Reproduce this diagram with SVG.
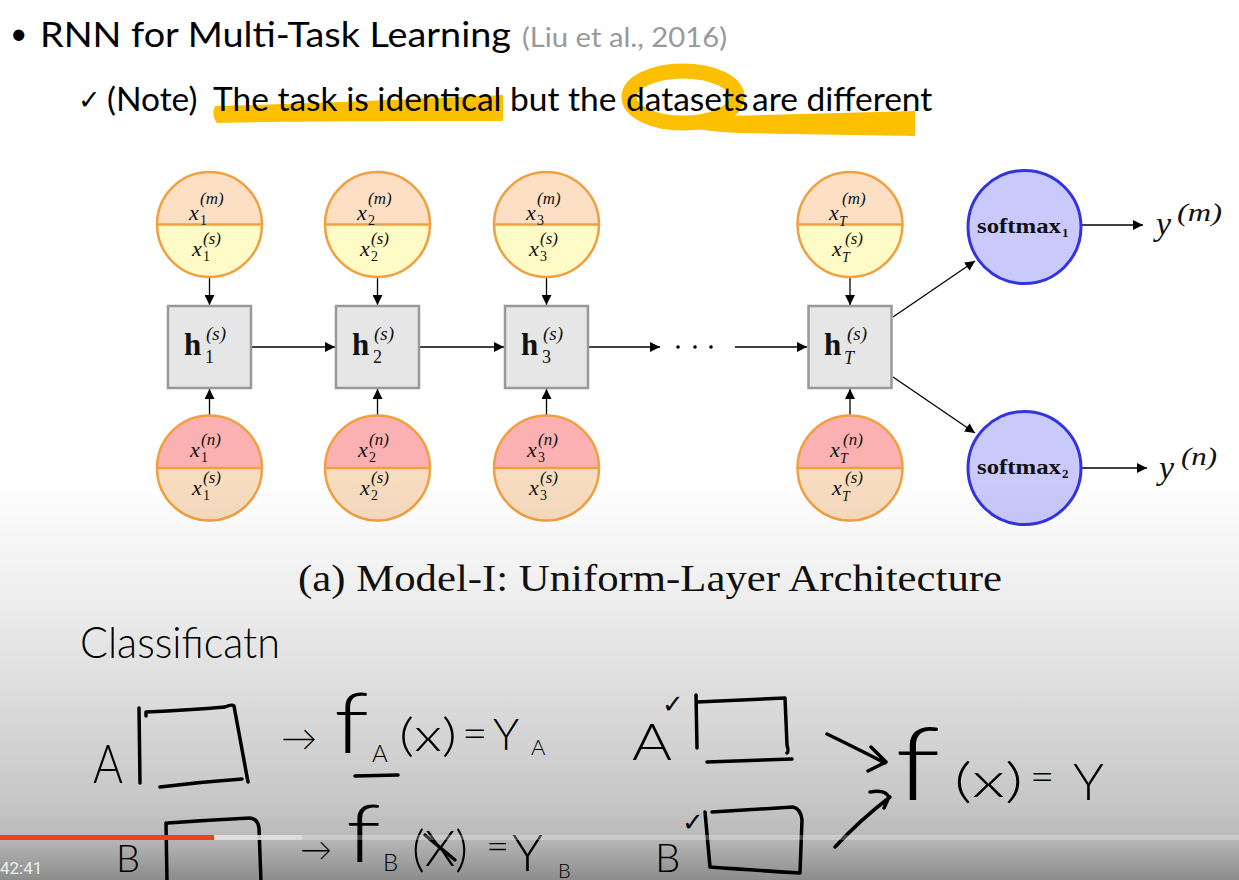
<svg xmlns="http://www.w3.org/2000/svg" width="1239" height="880" viewBox="0 0 1239 880">
<defs>
<linearGradient id="shade" gradientUnits="userSpaceOnUse" x1="0" y1="480" x2="0" y2="880">
<stop offset="0" stop-color="#000" stop-opacity="0"/>
<stop offset="0.3" stop-color="#000" stop-opacity="0.07"/>
<stop offset="0.55" stop-color="#000" stop-opacity="0.14"/>
<stop offset="0.8" stop-color="#000" stop-opacity="0.22"/>
<stop offset="0.89" stop-color="#000" stop-opacity="0.27"/>
<stop offset="1" stop-color="#000" stop-opacity="0.45"/>
</linearGradient>
<marker id="ah" viewBox="0 0 10 10" refX="10" refY="5" markerWidth="10" markerHeight="10" markerUnits="userSpaceOnUse" orient="auto">
<path d="M0,0 L10,5 L0,10 Z" fill="#000"/>
</marker>
<style>
.slide{font-family:Lato,"Open Sans",sans-serif;fill:#000}
.cite{font-family:Lato,"Open Sans",sans-serif;fill:#999}
.m{font-family:"Liberation Serif","DejaVu Serif",serif;font-style:italic;fill:#111}
.r{font-family:"Liberation Serif","DejaVu Serif",serif;fill:#111}
.b{font-family:"Liberation Serif","DejaVu Serif",serif;font-weight:bold;fill:#111}
.xb{font-size:22px}
.sb{font-size:14px}
.sp{font-size:17px}
.ring{fill:none;stroke:#f0a040;stroke-width:2.5}
.pu{fill:#fde0c4}
.yl{fill:#fefbc6}
.pk{fill:#fbb1b1}
.pl{fill:#f8dcc0}
.box{fill:#e6e6e6;stroke:#999;stroke-width:2.5}
.sm{fill:#c9c9fb;stroke:#3333e0;stroke-width:3}
.cn{stroke:#000;stroke-width:1.3;fill:none;marker-end:url(#ah)}
.hl{fill:#fcc000}
.hls{fill:none;stroke:#fcc000;stroke-linecap:round}
.hw{font-family:Lato,"DejaVu Sans",sans-serif;font-weight:300;fill:#000}
.pen{fill:none;stroke:#000;stroke-width:3.5;stroke-linecap:round;stroke-linejoin:round}
</style>
</defs>
<rect x="0" y="0" width="1239" height="880" fill="#fff"/>

<g id="highlights">
<path class="hl" d="M215,106 C300,104 420,99 503,95 L503,121 C420,121 300,121 217,123 Q211,115 215,106 Z"/>
<ellipse class="hls" cx="683" cy="97" rx="54" ry="26" stroke-width="15"/>
<path class="hl" d="M690,117 L915,111 L915,136 L740,133 Q700,131 690,127 Z"/>
</g>

<g id="title">
<text class="slide" x="10" y="44" font-size="30">•</text>
<text class="slide" x="40" y="47" font-size="35" textLength="471" lengthAdjust="spacingAndGlyphs">RNN for Multi-Task Learning</text>
<text class="cite" x="522" y="47" font-size="26" textLength="205" lengthAdjust="spacingAndGlyphs">(Liu et al., 2016)</text>
</g>
<g id="note">
<text x="78" y="109" font-size="27" font-family="DejaVu Sans, sans-serif">✓</text>
<text class="slide" y="111" font-size="33.5"><tspan x="107">(Note)</tspan><tspan x="213">The task is identical</tspan><tspan x="510">but the</tspan><tspan x="626">datasets</tspan><tspan x="752">are different</tspan></text>
</g>

<g id="connectors">
<line class="cn" x1="209.5" y1="277" x2="209.5" y2="305"/>
<line class="cn" x1="377.5" y1="277" x2="377.5" y2="305"/>
<line class="cn" x1="546.5" y1="277" x2="546.5" y2="305"/>
<line class="cn" x1="850" y1="277" x2="850" y2="305"/>
<line class="cn" x1="209.5" y1="416" x2="209.5" y2="389"/>
<line class="cn" x1="377.5" y1="416" x2="377.5" y2="389"/>
<line class="cn" x1="546.5" y1="416" x2="546.5" y2="389"/>
<line class="cn" x1="850" y1="416" x2="850" y2="389"/>
<line class="cn" x1="252" y1="347" x2="335" y2="347"/>
<line class="cn" x1="420" y1="347" x2="504" y2="347"/>
<line class="cn" x1="589" y1="347" x2="660" y2="347"/>
<line class="cn" x1="735" y1="347" x2="807" y2="347"/>
<line class="cn" x1="893" y1="317" x2="975" y2="261"/>
<line class="cn" x1="893" y1="377" x2="975" y2="433"/>
<line class="cn" x1="1082" y1="225" x2="1143" y2="225"/>
<line class="cn" x1="1082" y1="468" x2="1147" y2="468"/>
<circle cx="678" cy="347" r="1.8" fill="#000"/>
<circle cx="695" cy="347" r="1.8" fill="#000"/>
<circle cx="711" cy="347" r="1.8" fill="#000"/>
</g>

<g id="x1top">
<path class="pu" d="M157,224.5 A52.5,52.5 0 0 1 262,224.5 Z"/>
<path class="yl" d="M157,224.5 A52.5,52.5 0 0 0 262,224.5 Z"/>
<line x1="157" y1="224.5" x2="262" y2="224.5" stroke="#f0a040" stroke-width="2.5"/>
<circle class="ring" cx="209.5" cy="224.5" r="52.5"/>
<text class="m xb" x="189" y="220">x</text><text class="r sb" x="200" y="225">1</text><text class="m sp" x="200" y="204">(m)</text>
<text class="m xb" x="192" y="256">x</text><text class="r sb" x="203" y="261">1</text><text class="m sp" x="203" y="244">(s)</text>
</g>
<g id="h1">
<rect class="box" x="168" y="306" width="83" height="82"/>
<text class="b" x="184" y="355" font-size="31">h</text><text class="r" x="205" y="363" font-size="18">1</text><text class="m" x="206" y="340" font-size="19">(s)</text>
</g>
<g id="x1bot">
<path class="pk" d="M157,468 A52.5,52.5 0 0 1 262,468 Z"/>
<path class="pl" d="M157,468 A52.5,52.5 0 0 0 262,468 Z"/>
<line x1="157" y1="468" x2="262" y2="468" stroke="#f0a040" stroke-width="2.5"/>
<circle class="ring" cx="209.5" cy="468" r="52.5"/>
<text class="m xb" x="190" y="457">x</text><text class="r sb" x="201" y="462">1</text><text class="m sp" x="201" y="445">(n)</text>
<text class="m xb" x="192" y="495">x</text><text class="r sb" x="203" y="500">1</text><text class="m sp" x="203" y="483">(s)</text>
</g>

<g id="x2top">
<path class="pu" d="M325,224.5 A52.5,52.5 0 0 1 430,224.5 Z"/>
<path class="yl" d="M325,224.5 A52.5,52.5 0 0 0 430,224.5 Z"/>
<line x1="325" y1="224.5" x2="430" y2="224.5" stroke="#f0a040" stroke-width="2.5"/>
<circle class="ring" cx="377.5" cy="224.5" r="52.5"/>
<text class="m xb" x="357" y="220">x</text><text class="r sb" x="368" y="225">2</text><text class="m sp" x="368" y="204">(m)</text>
<text class="m xb" x="360" y="256">x</text><text class="r sb" x="371" y="261">2</text><text class="m sp" x="371" y="244">(s)</text>
</g>
<g id="h2">
<rect class="box" x="336" y="306" width="83" height="82"/>
<text class="b" x="352" y="355" font-size="31">h</text><text class="r" x="373" y="363" font-size="18">2</text><text class="m" x="374" y="340" font-size="19">(s)</text>
</g>
<g id="x2bot">
<path class="pk" d="M325,468 A52.5,52.5 0 0 1 430,468 Z"/>
<path class="pl" d="M325,468 A52.5,52.5 0 0 0 430,468 Z"/>
<line x1="325" y1="468" x2="430" y2="468" stroke="#f0a040" stroke-width="2.5"/>
<circle class="ring" cx="377.5" cy="468" r="52.5"/>
<text class="m xb" x="358" y="457">x</text><text class="r sb" x="369" y="462">2</text><text class="m sp" x="369" y="445">(n)</text>
<text class="m xb" x="360" y="495">x</text><text class="r sb" x="371" y="500">2</text><text class="m sp" x="371" y="483">(s)</text>
</g>

<g id="x3top">
<path class="pu" d="M494,224.5 A52.5,52.5 0 0 1 599,224.5 Z"/>
<path class="yl" d="M494,224.5 A52.5,52.5 0 0 0 599,224.5 Z"/>
<line x1="494" y1="224.5" x2="599" y2="224.5" stroke="#f0a040" stroke-width="2.5"/>
<circle class="ring" cx="546.5" cy="224.5" r="52.5"/>
<text class="m xb" x="526" y="220">x</text><text class="r sb" x="537" y="225">3</text><text class="m sp" x="537" y="204">(m)</text>
<text class="m xb" x="529" y="256">x</text><text class="r sb" x="540" y="261">3</text><text class="m sp" x="540" y="244">(s)</text>
</g>
<g id="h3">
<rect class="box" x="505" y="306" width="83" height="82"/>
<text class="b" x="521" y="355" font-size="31">h</text><text class="r" x="542" y="363" font-size="18">3</text><text class="m" x="543" y="340" font-size="19">(s)</text>
</g>
<g id="x3bot">
<path class="pk" d="M494,468 A52.5,52.5 0 0 1 599,468 Z"/>
<path class="pl" d="M494,468 A52.5,52.5 0 0 0 599,468 Z"/>
<line x1="494" y1="468" x2="599" y2="468" stroke="#f0a040" stroke-width="2.5"/>
<circle class="ring" cx="546.5" cy="468" r="52.5"/>
<text class="m xb" x="527" y="457">x</text><text class="r sb" x="538" y="462">3</text><text class="m sp" x="538" y="445">(n)</text>
<text class="m xb" x="529" y="495">x</text><text class="r sb" x="540" y="500">3</text><text class="m sp" x="540" y="483">(s)</text>
</g>

<g id="xTtop">
<path class="pu" d="M797.5,224.5 A52.5,52.5 0 0 1 902.5,224.5 Z"/>
<path class="yl" d="M797.5,224.5 A52.5,52.5 0 0 0 902.5,224.5 Z"/>
<line x1="797.5" y1="224.5" x2="902.5" y2="224.5" stroke="#f0a040" stroke-width="2.5"/>
<circle class="ring" cx="850" cy="224.5" r="52.5"/>
<text class="m xb" x="829" y="220">x</text><text class="m sb" x="839" y="226">T</text><text class="m sp" x="842" y="204">(m)</text>
<text class="m xb" x="832" y="256">x</text><text class="m sb" x="842" y="262">T</text><text class="m sp" x="845" y="244">(s)</text>
</g>
<g id="hT">
<rect class="box" x="808.5" y="306" width="83" height="82"/>
<text class="b" x="824" y="355" font-size="31">h</text><text class="m" x="844" y="364" font-size="18">T</text><text class="m" x="847" y="340" font-size="19">(s)</text>
</g>
<g id="xTbot">
<path class="pk" d="M797.5,468 A52.5,52.5 0 0 1 902.5,468 Z"/>
<path class="pl" d="M797.5,468 A52.5,52.5 0 0 0 902.5,468 Z"/>
<line x1="797.5" y1="468" x2="902.5" y2="468" stroke="#f0a040" stroke-width="2.5"/>
<circle class="ring" cx="850" cy="468" r="52.5"/>
<text class="m xb" x="830" y="457">x</text><text class="m sb" x="840" y="463">T</text><text class="m sp" x="843" y="445">(n)</text>
<text class="m xb" x="832" y="495">x</text><text class="m sb" x="842" y="501">T</text><text class="m sp" x="845" y="483">(s)</text>
</g>

<g id="softmax1">
<circle class="sm" cx="1024.5" cy="227" r="56.5"/>
<text class="b" x="977" y="233" font-size="20" textLength="84" lengthAdjust="spacingAndGlyphs">softmax</text><text class="b" x="1062" y="237" font-size="13">1</text>
</g>
<g id="softmax2">
<circle class="sm" cx="1024.5" cy="468" r="56.5"/>
<text class="b" x="977" y="474" font-size="20" textLength="84" lengthAdjust="spacingAndGlyphs">softmax</text><text class="b" x="1062" y="478" font-size="13">2</text>
</g>
<g id="ym">
<text class="m" x="1156" y="235" font-size="34">y</text><text class="m" x="1177" y="221" font-size="25" textLength="45" lengthAdjust="spacingAndGlyphs">(m)</text>
</g>
<g id="yn">
<text class="m" x="1159" y="479" font-size="34">y</text><text class="m" x="1181" y="465" font-size="25" textLength="36" lengthAdjust="spacingAndGlyphs">(n)</text>
</g>

<g id="caption">
<text class="r" x="298" y="591" font-size="38" textLength="704" lengthAdjust="spacingAndGlyphs" fill="#111">(a) Model-I: Uniform-Layer Architecture</text>
</g>

<g id="handwriting">
<text class="hw" x="80" y="658" font-size="44" textLength="200" lengthAdjust="spacingAndGlyphs">Classificatn</text>
<text class="hw" x="93" y="783" font-size="54" textLength="30" lengthAdjust="spacingAndGlyphs">A</text>
<path class="pen" d="M139,708 L140,783 M146,716 L146,712 Q190,710 225,707 Q232,704 234,706 L248,782 M160,787 Q200,782 242,779"/>
<text class="hw" x="281" y="751" font-size="36">→</text>
<text class="hw" transform="translate(334,753) scale(1.5,1.25)" x="0" y="0" font-size="68">f</text>
<text class="hw" x="372" y="762" font-size="24">A</text>
<path class="pen" d="M355,776 L398,775"/>
<text class="hw" x="399" y="751" font-size="46" textLength="58" lengthAdjust="spacingAndGlyphs">(x)</text>
<text class="hw" x="462" y="749" font-size="44">=</text>
<text class="hw" x="493" y="750" font-size="44">Y</text>
<text class="hw" x="531" y="755" font-size="22">A</text>

<text class="hw" x="116" y="872" font-size="38">B</text>
<path class="pen" d="M166,823 L167,882 M168,823 Q210,820 250,818 Q258,819 259,828 L261,882"/>
<text class="hw" x="300" y="861" font-size="32">→</text>
<text class="hw" transform="translate(346,862) scale(1.5,1.2)" x="0" y="0" font-size="68">f</text>
<text class="hw" x="383" y="871" font-size="24">B</text>
<text class="hw" x="412" y="866" font-size="50" textLength="56" lengthAdjust="spacingAndGlyphs">(X)</text>
<path class="pen" d="M425,835 L455,860"/>
<text class="hw" x="486" y="860" font-size="40">=</text>
<text class="hw" x="512" y="871" font-size="52">Y</text>
<text class="hw" x="558" y="878" font-size="20">B</text>

<text class="hw" x="632" y="760" font-size="52" textLength="40" lengthAdjust="spacingAndGlyphs">A</text>
<text class="hw" x="662" y="713" font-size="26">✓</text>
<path class="pen" d="M696,695 L697,748 M697,702 L785,698 L787,745 Q789,752 787,753 M707,762 L792,759"/>
<path class="pen" d="M827,734 Q860,750 885,763 M871,747 L886,762 L868,771"/>
<path class="pen" d="M835,847 Q860,820 890,797 M870,792 Q885,789 889,797 L884,808"/>
<text class="hw" transform="translate(895,800) scale(1.7,1.3)" x="0" y="0" font-size="78">f</text>
<text class="hw" x="954" y="797" font-size="48" textLength="69" lengthAdjust="spacingAndGlyphs">(x)</text>
<text class="hw" x="1030" y="791" font-size="42">=</text>
<text class="hw" x="1073" y="800" font-size="52">Y</text>

<text class="hw" x="655" y="872" font-size="40">B</text>
<text class="hw" x="682" y="831" font-size="26">✓</text>
<path class="pen" d="M705,812 L710,867 Q750,870 800,873 L802,820 Q801,809 793,807 L712,812"/>
</g>

<rect x="0" y="480" width="1239" height="400" fill="url(#shade)"/>

<g id="player">
<rect x="0" y="835" width="1239" height="5" fill="#fff" fill-opacity="0.25"/>
<rect x="214" y="835" width="88" height="5" fill="#e0e0e0" fill-opacity="0.85"/>
<rect x="0" y="835" width="214" height="5" fill="#e8431c"/>
<text x="0" y="874" font-size="17" font-family="Roboto, sans-serif" fill="#eeeeee">42:41</text>
</g>
</svg>
